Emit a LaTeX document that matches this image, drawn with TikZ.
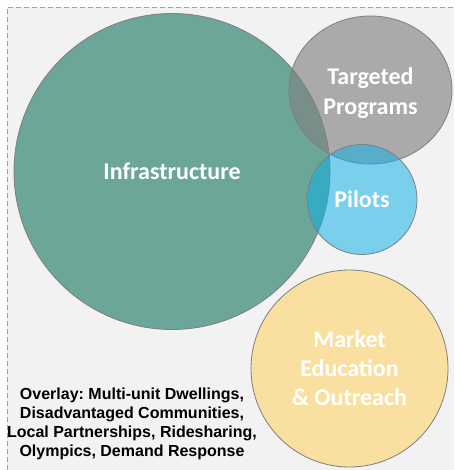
\documentclass[tikz,border=0pt]{standalone}
\usepackage{fontspec}
\setmainfont{Carlito}
\newfontfamily\arialfont{Liberation Sans}
\usepackage{tikz}
\usetikzlibrary{shapes.geometric}
\usepackage{xcolor}
\definecolor{bggray}{HTML}{F2F2F2}
\definecolor{dashgray}{HTML}{A0A0A0}
\definecolor{edgegray}{HTML}{7F7F7F}
\definecolor{infragreen}{HTML}{6BA698}
\definecolor{targgray}{HTML}{818181}
\definecolor{pilotblue}{HTML}{0EB0E7}
\definecolor{mktyellow}{HTML}{F9E0A0}
\frenchspacing

\begin{document}
\begin{tikzpicture}[x=1pt,y=-1pt]
\tikzset{
    bubble/.style={%
        draw=edgegray, line width=0.8pt,
        circle, inner sep=0pt,
        text=white, text opacity=1,
        align=center,
        font=\fontsize{24}{29}\selectfont\bfseries
        },
    bubbletext/.style={%
        text=white, text opacity=1,
        align=center, inner sep=0pt,
        font=\fontsize{24}{30}\selectfont\bfseries
        },
    notebox/.style={%
        align=center, inner sep=0pt,
        font=\arialfont\fontsize{16}{19}\selectfont\bfseries
        },
}
\useasboundingbox (0,0) rectangle (454,470);
%%%BACKGROUND
\fill[bggray] (7,7) rectangle (454,470);
\draw[dashgray, dash pattern=on 5pt off 3pt] (7,470) -- (7,7) -- (454,7);
%%%BUBBLES
\node[bubble, fill=infragreen, minimum size=316pt] (infra) at (172,171.5) {Infrastructure};
\node[bubble, ellipse, fill=targgray, fill opacity=0.63,
      minimum width=163pt, minimum height=148pt,
      label={[bubbletext, yshift=-3.5pt]center:Targeted\\Programs}] (targ) at (370.5,90) {};
\node[bubble, fill=pilotblue, fill opacity=0.53, minimum size=110pt] (pilot) at (362,199.5) {Pilots};
\node[bubble, fill=mktyellow, minimum size=197pt] (mkt) at (349.5,368.5) {Market\\Education\\\& Outreach};
%%%OVERLAY NOTE
\node[notebox] (note) at (132,424) {Overlay: Multi-unit Dwellings,\\Disadvantaged Communities,\\Local Partnerships, Ridesharing,\\Olympics, Demand Response};
\end{tikzpicture}
\end{document}
